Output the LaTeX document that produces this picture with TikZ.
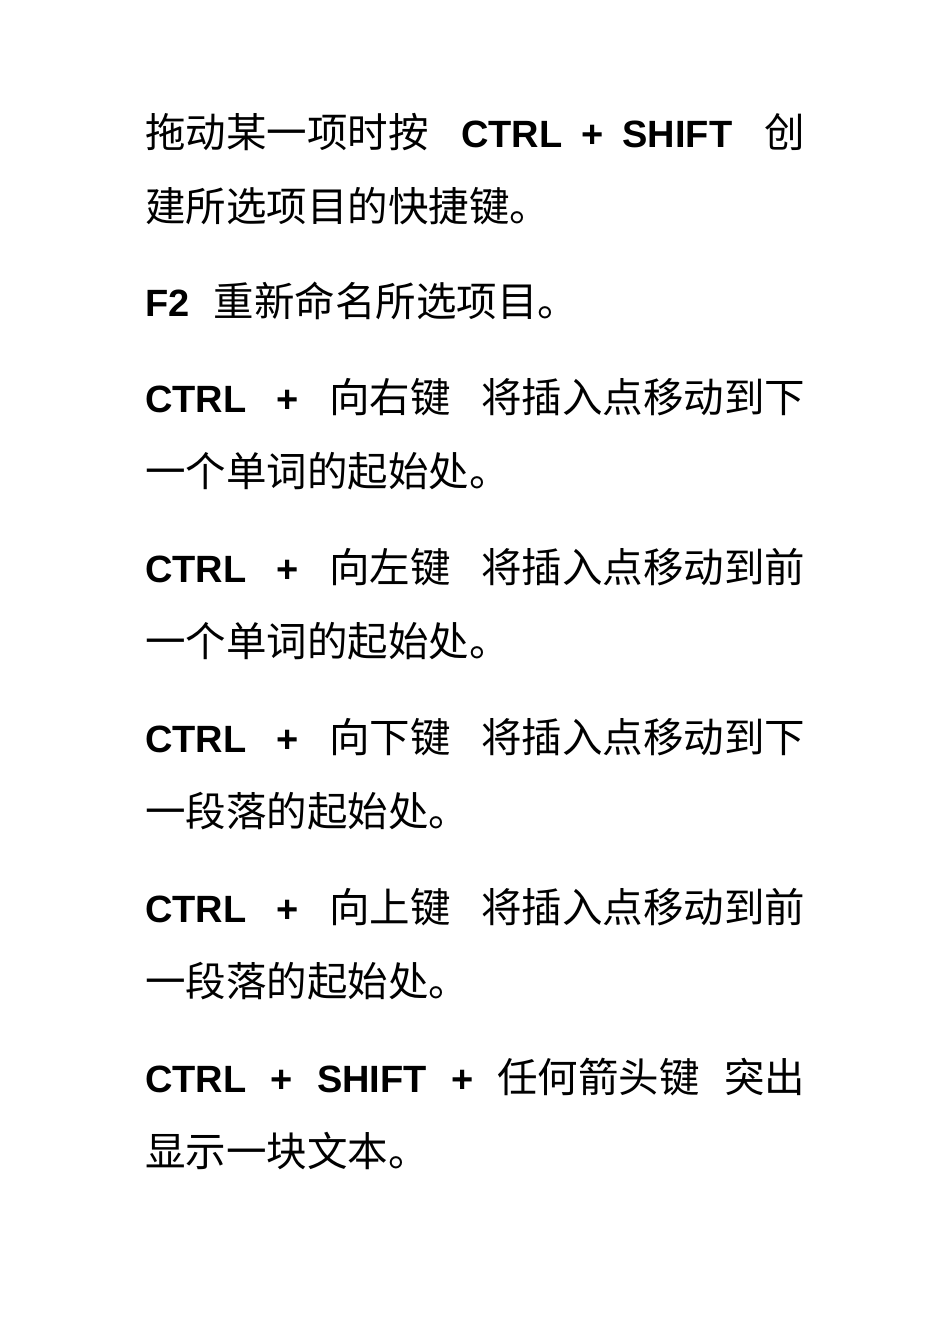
\documentclass[tikz,border=0pt]{standalone}
\usepackage{fontspec}
\setmainfont{Liberation Sans}
\newfontfamily\cjk{Noto Sans CJK SC}
\usetikzlibrary{positioning}
\newcommand{\kb}[1]{{\rmfamily\bfseries\fontsize{38}{38}\selectfont #1}}
\begin{document}
\begin{tikzpicture}[%
x=1pt,y=-1pt,
line/.style={anchor=base west,inner sep=0pt,font=\cjk\fontsize{40.5}{40.5}\selectfont},
full/.style={line,text width=660pt}
]
\useasboundingbox[fill=white] (0,0) rectangle (950,1344);

\node[full] (l1) at (145,147) {\makebox[660pt][s]{拖动某一项时按\hfill\kb{CTRL\hspace{0.5em}+\hspace{0.5em}SHIFT}\hfill 创}};
\node[line] (l2) at (145,221) {建所选项目的快捷键。};
\node[line] (l3) at (145,316) {\kb{F2}\hspace{0.6em}重新命名所选项目。};
\node[full] (l4) at (145,412) {\makebox[660pt][s]{\kb{CTRL}\hfill\kb{+}\hfill 向右键\hfill 将插入点移动到下}};
\node[line] (l5) at (145,486) {一个单词的起始处。};
\node[full] (l6) at (145,582) {\makebox[660pt][s]{\kb{CTRL}\hfill\kb{+}\hfill 向左键\hfill 将插入点移动到前}};
\node[line] (l7) at (145,656) {一个单词的起始处。};
\node[full] (l8) at (145,752) {\makebox[660pt][s]{\kb{CTRL}\hfill\kb{+}\hfill 向下键\hfill 将插入点移动到下}};
\node[line] (l9) at (145,826) {一段落的起始处。};
\node[full] (l10) at (145,922) {\makebox[660pt][s]{\kb{CTRL}\hfill\kb{+}\hfill 向上键\hfill 将插入点移动到前}};
\node[line] (l11) at (145,996) {一段落的起始处。};
\node[full] (l12) at (145,1092) {\makebox[660pt][s]{\kb{CTRL}\hfill\kb{+}\hfill\kb{SHIFT}\hfill\kb{+}\hfill 任何箭头键\hfill 突出}};
\node[line] (l13) at (145,1166) {显示一块文本。};

\end{tikzpicture}
\end{document}
